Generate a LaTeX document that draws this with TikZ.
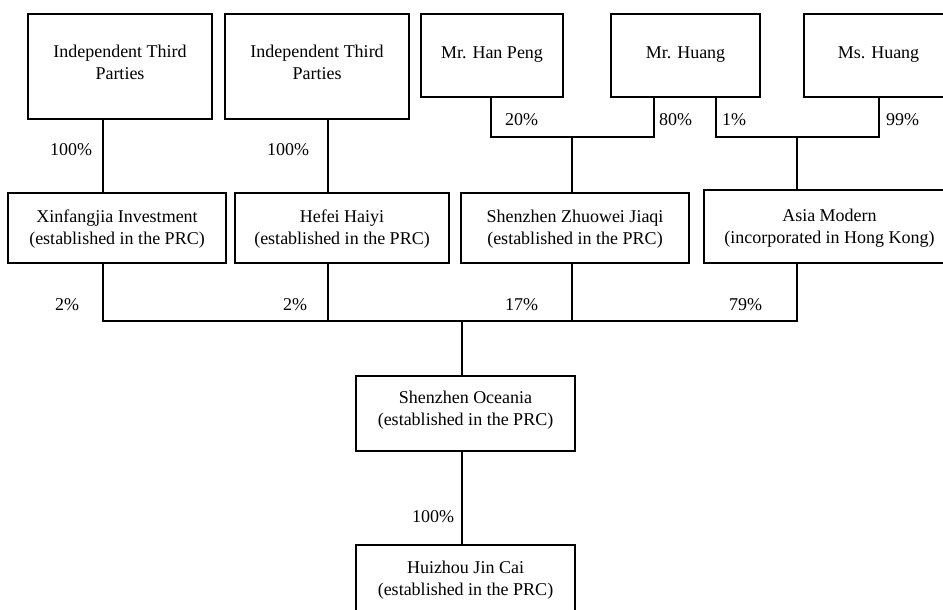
\documentclass[tikz,border=0pt]{standalone}
\usepackage{fontspec}
\setmainfont{Liberation Serif}
\begin{document}
\begin{tikzpicture}[x=1pt,y=-1pt,
  box/.style={draw=black, line width=1.9pt, inner sep=0pt, align=center,
    font=\fontsize{18}{22}\selectfont, text height=36pt, text depth=4pt},
  onel/.style={text height=12pt, text depth=5pt},
  pct/.style={inner sep=0pt, anchor=base west, font=\fontsize{18}{22}\selectfont},
  link/.style={draw=black, line width=1.7pt}]
\useasboundingbox (0,0) rectangle (943,610);
\clip (0,0) rectangle (943,610);

% top row
\node[box, minimum width=184pt, minimum height=105pt, text height=31pt] (itp1) at (120,66.5) {Independent Third\\Parties};
\node[box, minimum width=184pt, minimum height=105pt, text height=31pt] (itp2) at (317,66.5) {Independent Third\\Parties};
\node[box, onel, minimum width=142pt, minimum height=83pt] (han) at (492,55.5) {Mr. Han Peng};
\node[box, onel, minimum width=149pt, minimum height=83pt] (mrh) at (685.5,55.5) {Mr. Huang};
\node[box, onel, minimum width=149pt, minimum height=83pt] (msh) at (878.5,55.5) {Ms. Huang};

% middle row
\node[box, minimum width=218pt, minimum height=70pt] (xin) at (117,228) {Xinfangjia Investment\\(established in the PRC)};
\node[box, minimum width=214pt, minimum height=70pt] (hef) at (342,228) {Hefei Haiyi\\(established in the PRC)};
\node[box, minimum width=228pt, minimum height=70pt] (szz) at (575,228) {Shenzhen Zhuowei Jiaqi\\(established in the PRC)};
\node[box, minimum width=251pt, minimum height=73pt, text height=37pt] (asia) at (829.5,226.5) {Asia Modern\\(incorporated in Hong Kong)};

% lower boxes
\node[box, minimum width=219pt, minimum height=75pt, text height=28pt] (oce) at (465.5,413.5) {Shenzhen Oceania\\(established in the PRC)};
\node[box, minimum width=219pt, minimum height=75pt, text height=29pt] (hui) at (465.5,582.5) {Huizhou Jin Cai\\(established in the PRC)};

% line positions
\coordinate (c1) at (103,0);
\coordinate (c2) at (328,0);
\coordinate (hp) at (491,137);
\coordinate (h1) at (654,137);
\coordinate (j1) at (572,137);
\coordinate (h2) at (716,137);
\coordinate (ms) at (879,137);
\coordinate (j2) at (797,137);
\coordinate (hb) at (0,321);
\coordinate (cm) at (462,0);

% top connectors
\draw[link] (itp1.south -| c1) -- (xin.north -| c1);
\draw[link] (itp2.south -| c2) -- (hef.north -| c2);
\draw[link] (han.south -| hp) -- (hp) -- (h1) -- (mrh.south -| h1);
\draw[link] (j1) -- (szz.north -| j1);
\draw[link] (mrh.south -| h2) -- (h2) -- (ms) -- (msh.south -| ms);
\draw[link] (j2) -- (asia.north -| j2);

% bottom connectors
\draw[link] (xin.south -| c1) -- (c1 |- hb) -- (j2 |- hb) -- (asia.south -| j2);
\draw[link] (hef.south -| c2) -- (c2 |- hb);
\draw[link] (szz.south -| j1) -- (j1 |- hb);
\draw[link] (cm |- hb) -- (oce.north -| cm);
\draw[link] (oce.south -| cm) -- (hui.north -| cm);

% percentages
\node[pct] (p1) at (50,155) {100\%};
\node[pct] (p2) at (267,155) {100\%};
\node[pct] (p3) at (505,125) {20\%};
\node[pct] (p4) at (659,125) {80\%};
\node[pct] (p5) at (722,125) {1\%};
\node[pct] (p6) at (886,125) {99\%};
\node[pct] (p7) at (55,310) {2\%};
\node[pct] (p8) at (283,310) {2\%};
\node[pct] (p9) at (505,310) {17\%};
\node[pct] (p10) at (729,310) {79\%};
\node[pct] (p11) at (412,522) {100\%};
\end{tikzpicture}
\end{document}
